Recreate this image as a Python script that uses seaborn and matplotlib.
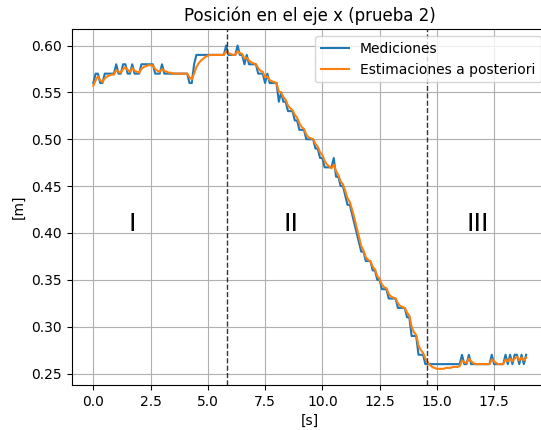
import numpy as np
import pandas as pd
import seaborn as sns
import matplotlib
matplotlib.use("Agg")
import matplotlib.pyplot as plt

# Mediciones (m), una muestra cada 0.1 s
mediciones = [
    0.56, 0.57, 0.57, 0.56, 0.56, 0.57, 0.57, 0.57, 0.57, 0.57,
    0.58, 0.57, 0.57, 0.58, 0.58, 0.57, 0.57, 0.58, 0.57, 0.57,
    0.57, 0.58, 0.58, 0.58, 0.58, 0.58, 0.58, 0.57, 0.57, 0.57,
    0.58, 0.57, 0.57, 0.57, 0.57, 0.57, 0.57, 0.57, 0.57, 0.57,
    0.57, 0.57, 0.56, 0.56, 0.58, 0.59, 0.59, 0.59, 0.59, 0.59,
    0.59, 0.59, 0.59, 0.59, 0.59, 0.59, 0.59, 0.59, 0.60, 0.59,
    0.59, 0.59, 0.59, 0.60, 0.59, 0.59, 0.58, 0.59, 0.58, 0.58,
    0.58, 0.58, 0.57, 0.57, 0.57, 0.56, 0.57, 0.56, 0.56, 0.56,
    0.56, 0.54, 0.55, 0.54, 0.54, 0.53, 0.53, 0.53, 0.52, 0.52,
    0.51, 0.51, 0.51, 0.50, 0.50, 0.50, 0.50, 0.49, 0.49, 0.48,
    0.48, 0.47, 0.47, 0.47, 0.47, 0.48, 0.46, 0.46, 0.45, 0.45,
    0.44, 0.43, 0.43, 0.42, 0.41, 0.40, 0.39, 0.38, 0.38, 0.37,
    0.37, 0.37, 0.36, 0.36, 0.35, 0.35, 0.34, 0.34, 0.34, 0.33,
    0.33, 0.33, 0.33, 0.32, 0.32, 0.32, 0.32, 0.31, 0.31, 0.29,
    0.29, 0.29, 0.27, 0.27, 0.27, 0.26, 0.26, 0.26, 0.26, 0.26,
    0.26, 0.26, 0.26, 0.26, 0.26, 0.26, 0.26, 0.26, 0.26, 0.26,
    0.26, 0.27, 0.26, 0.26, 0.27, 0.26, 0.26, 0.26, 0.26, 0.26,
    0.26, 0.26, 0.26, 0.26, 0.27, 0.26, 0.26, 0.26, 0.26, 0.26,
    0.27, 0.26, 0.27, 0.26, 0.27, 0.27, 0.26, 0.27, 0.26, 0.27,
]

# Estimaciones a posteriori (m)
estimaciones = [
    0.557, 0.563, 0.567, 0.563, 0.561, 0.565, 0.567, 0.568, 0.569, 0.569,
    0.574, 0.572, 0.571, 0.575, 0.577, 0.574, 0.572, 0.576, 0.573, 0.572,
    0.571, 0.575, 0.577, 0.578, 0.579, 0.579, 0.579, 0.575, 0.573, 0.572,
    0.575, 0.573, 0.572, 0.571, 0.571, 0.570, 0.570, 0.570, 0.570, 0.570,
    0.570, 0.570, 0.566, 0.564, 0.570, 0.577, 0.581, 0.584, 0.586, 0.588,
    0.589, 0.590, 0.590, 0.590, 0.590, 0.590, 0.590, 0.590, 0.594, 0.592,
    0.591, 0.590, 0.590, 0.594, 0.592, 0.591, 0.586, 0.587, 0.584, 0.582,
    0.581, 0.580, 0.576, 0.573, 0.572, 0.566, 0.567, 0.563, 0.562, 0.561,
    0.560, 0.551, 0.550, 0.545, 0.542, 0.536, 0.533, 0.531, 0.526, 0.523,
    0.517, 0.513, 0.511, 0.505, 0.502, 0.501, 0.500, 0.495, 0.492, 0.486,
    0.483, 0.477, 0.473, 0.471, 0.469, 0.473, 0.466, 0.462, 0.455, 0.452,
    0.445, 0.437, 0.433, 0.425, 0.416, 0.406, 0.396, 0.386, 0.381, 0.374,
    0.371, 0.370, 0.364, 0.361, 0.354, 0.351, 0.345, 0.342, 0.341, 0.335,
    0.332, 0.331, 0.330, 0.325, 0.322, 0.321, 0.320, 0.315, 0.312, 0.300,
    0.294, 0.291, 0.280, 0.275, 0.272, 0.266, 0.262, 0.259, 0.257, 0.256,
    0.255, 0.255, 0.255, 0.255, 0.256, 0.256, 0.256, 0.257, 0.257, 0.257,
    0.258, 0.264, 0.262, 0.261, 0.266, 0.263, 0.261, 0.260, 0.260, 0.260,
    0.260, 0.260, 0.260, 0.260, 0.265, 0.263, 0.261, 0.260, 0.260, 0.260,
    0.265, 0.263, 0.266, 0.263, 0.266, 0.268, 0.264, 0.267, 0.264, 0.267,
]

dt = 0.1
tiempo = np.round(np.arange(len(mediciones)) * dt, 1)

# limites entre etapas y etiquetas
limites = [5.85, 14.55]
etapas = ["I", "II", "III"]
etapas_x = [1.7, 8.65, 16.8]
etapas_y = 0.41

df = pd.DataFrame({"t": tiempo, "med": mediciones, "est": estimaciones})

fig = plt.figure(figsize=(5.41, 4.30), dpi=100)
ax = fig.add_axes([0.1325, 0.1047, 0.880, 0.827])

sns.lineplot(data=df, x="t", y="med", ax=ax, color="#1f77b4", label="Mediciones")
sns.lineplot(data=df, x="t", y="est", ax=ax, color="#ff7f0e", label="Estimaciones a posteriori")

for x in limites:
    ax.axvline(x, color="#333333", linestyle="--", linewidth=1)

for nombre, x in zip(etapas, etapas_x):
    ax.text(x, etapas_y, nombre, fontsize=18, ha="center", va="center")

for s in ax.spines.values():
    s.set_visible(True)

ax.grid(True)
ax.set_title("Posición en el eje x (prueba 2)")
ax.set_xlabel("[s]")
ax.set_ylabel("[m]")
ax.legend(loc="upper right")

fig.savefig("out.png", dpi=100)
